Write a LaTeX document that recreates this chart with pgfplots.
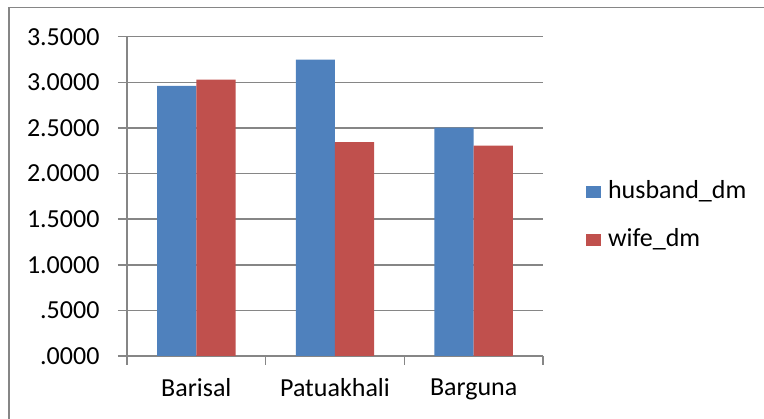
\documentclass[border=0pt]{standalone}
\usepackage{pgfplots}
\pgfplotsset{compat=1.18}
\usepackage{fontspec}
\setmainfont{Carlito}
\definecolor{husband}{RGB}{79,129,189}
\definecolor{wife}{RGB}{192,80,77}
\definecolor{gridgray}{RGB}{134,134,134}

\begin{document}
\begin{tikzpicture}
\useasboundingbox (0pt,0pt) rectangle (764pt,419pt);
% chart frame (runs off the page to the right and bottom)
\draw[gridgray, line width=1.5pt] (9pt,-10pt) -- (9pt,411.5pt) -- (775pt,411.5pt);
\begin{axis}[
  at={(127pt,63pt)}, anchor=south west,
  scale only axis, width=416pt, height=319.3pt,
  xmin=-0.5, xmax=2.5, ymin=0, ymax=3.5,
  axis x line*=bottom, axis y line*=left,
  axis line style={gridgray, line width=1.5pt, -},
  ytick={0,0.5,1,1.5,2,2.5,3,3.5},
  yticklabels={.0000,.5000,1.0000,1.5000,2.0000,2.5000,3.0000,3.5000},
  yticklabel style={xshift=-15pt},
  ymajorgrids, grid style={gridgray, line width=1.5pt},
  xtick={-0.5,0.5,1.5,2.5}, xticklabels={},
  extra x ticks={0,1,2},
  extra x tick labels={Barisal,Patuakhali,Barguna},
  extra x tick style={major tick length=0pt, grid=none,
    tick label style={yshift=-19pt}},
  tick align=outside, major tick length=9pt,
  tick style={gridgray, line width=1.5pt},
  ticklabel style={font=\fontsize{26}{31}\selectfont},
  legend style={at={(rel axis cs:1.103,0.438)}, anchor=west,
    draw=none, fill=none, inner sep=0pt, row sep=24pt, column sep=7.5pt,
    font=\fontsize{26}{31}\selectfont,
    nodes={inner sep=0pt, text height=18pt, text depth=6pt}},
  legend cell align=left,
  legend image code/.code={\fill[#1,draw=none] (0pt,-6pt) rectangle (14.5pt,6pt);},
]
\addplot[ybar, fill=husband, draw=none, bar width=0.283, bar shift=-0.1415]
  coordinates {(0,2.960) (1,3.250) (2,2.504)};
\addplot[ybar, fill=wife, draw=none, bar width=0.283, bar shift=0.1415]
  coordinates {(0,3.030) (1,2.343) (2,2.306)};
\legend{husband\_dm, wife\_dm}
\end{axis}
\end{tikzpicture}
\end{document}
